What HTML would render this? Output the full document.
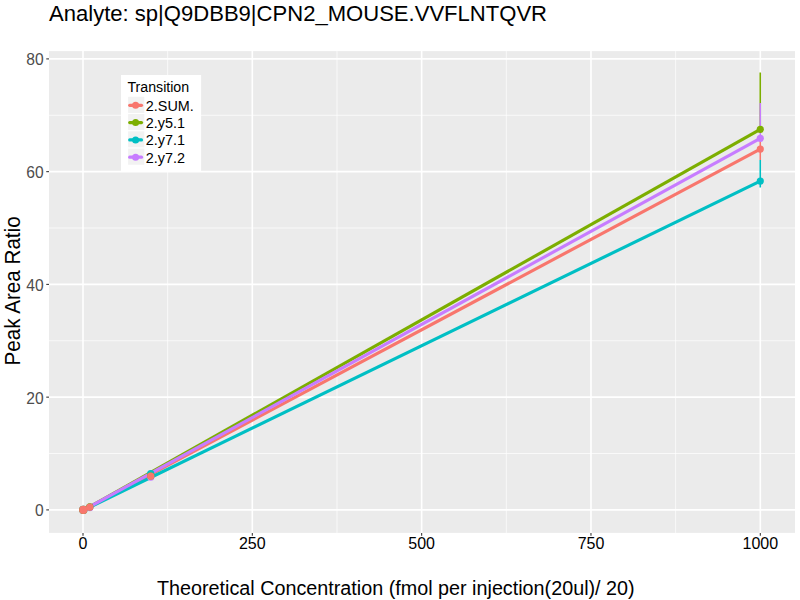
<!DOCTYPE html>
<html><head><meta charset="utf-8"><style>
html,body{margin:0;padding:0;background:#fff;width:800px;height:600px;overflow:hidden}
svg{display:block}
text{font-family:"Liberation Sans",sans-serif}
.title{font-size:22.06px;fill:#000}
.yat{font-size:20.65px;fill:#000}
.xat{font-size:19.77px;fill:#000}
.xt{font-size:16px;fill:#000}
.yt{font-size:15.6px;fill:#4D4D4D}
.lt{font-size:14.2px;fill:#000}
.ll{font-size:14.4px;fill:#000}
</style></head><body>
<svg width="800" height="600" viewBox="0 0 800 600">
<rect width="800" height="600" fill="#FFFFFF"/>
<rect x="49" y="51.1" width="746" height="481.80" fill="#EBEBEB"/>
<line x1="167.66" y1="51.1" x2="167.66" y2="532.9" stroke="#FFFFFF" stroke-width="0.71"/>
<line x1="336.99" y1="51.1" x2="336.99" y2="532.9" stroke="#FFFFFF" stroke-width="0.71"/>
<line x1="506.31" y1="51.1" x2="506.31" y2="532.9" stroke="#FFFFFF" stroke-width="0.71"/>
<line x1="675.64" y1="51.1" x2="675.64" y2="532.9" stroke="#FFFFFF" stroke-width="0.71"/>
<line x1="49" y1="453.52" x2="795" y2="453.52" stroke="#FFFFFF" stroke-width="0.71"/>
<line x1="49" y1="340.77" x2="795" y2="340.77" stroke="#FFFFFF" stroke-width="0.71"/>
<line x1="49" y1="228.02" x2="795" y2="228.02" stroke="#FFFFFF" stroke-width="0.71"/>
<line x1="49" y1="115.27" x2="795" y2="115.27" stroke="#FFFFFF" stroke-width="0.71"/>
<line x1="83.00" y1="51.1" x2="83.00" y2="532.9" stroke="#FFFFFF" stroke-width="1.6"/>
<line x1="252.32" y1="51.1" x2="252.32" y2="532.9" stroke="#FFFFFF" stroke-width="1.6"/>
<line x1="421.65" y1="51.1" x2="421.65" y2="532.9" stroke="#FFFFFF" stroke-width="1.6"/>
<line x1="590.97" y1="51.1" x2="590.97" y2="532.9" stroke="#FFFFFF" stroke-width="1.6"/>
<line x1="760.30" y1="51.1" x2="760.30" y2="532.9" stroke="#FFFFFF" stroke-width="1.6"/>
<line x1="49" y1="509.90" x2="795" y2="509.90" stroke="#FFFFFF" stroke-width="1.6"/>
<line x1="49" y1="397.15" x2="795" y2="397.15" stroke="#FFFFFF" stroke-width="1.6"/>
<line x1="49" y1="284.40" x2="795" y2="284.40" stroke="#FFFFFF" stroke-width="1.6"/>
<line x1="49" y1="171.65" x2="795" y2="171.65" stroke="#FFFFFF" stroke-width="1.6"/>
<line x1="49" y1="58.90" x2="795" y2="58.90" stroke="#FFFFFF" stroke-width="1.6"/>
<line x1="83.00" y1="532.9" x2="83.00" y2="535.64" stroke="#333333" stroke-width="1.07"/>
<g transform="translate(83.00,549.00) scale(1,1.0)"><text x="0" y="0" text-anchor="middle" class="xt">0</text></g>
<line x1="252.32" y1="532.9" x2="252.32" y2="535.64" stroke="#333333" stroke-width="1.07"/>
<g transform="translate(252.32,549.00) scale(1,1.0)"><text x="0" y="0" text-anchor="middle" class="xt">250</text></g>
<line x1="421.65" y1="532.9" x2="421.65" y2="535.64" stroke="#333333" stroke-width="1.07"/>
<g transform="translate(421.65,549.00) scale(1,1.0)"><text x="0" y="0" text-anchor="middle" class="xt">500</text></g>
<line x1="590.97" y1="532.9" x2="590.97" y2="535.64" stroke="#333333" stroke-width="1.07"/>
<g transform="translate(590.97,549.00) scale(1,1.0)"><text x="0" y="0" text-anchor="middle" class="xt">750</text></g>
<line x1="760.30" y1="532.9" x2="760.30" y2="535.64" stroke="#333333" stroke-width="1.07"/>
<g transform="translate(760.30,549.00) scale(1,1.0)"><text x="0" y="0" text-anchor="middle" class="xt">1000</text></g>
<line x1="46.26" y1="509.90" x2="49" y2="509.90" stroke="#333333" stroke-width="1.07"/>
<g transform="translate(43.60,516.30) scale(1,1.0)"><text x="0" y="0" text-anchor="end" class="yt">0</text></g>
<line x1="46.26" y1="397.15" x2="49" y2="397.15" stroke="#333333" stroke-width="1.07"/>
<g transform="translate(43.60,403.55) scale(1,1.0)"><text x="0" y="0" text-anchor="end" class="yt">20</text></g>
<line x1="46.26" y1="284.40" x2="49" y2="284.40" stroke="#333333" stroke-width="1.07"/>
<g transform="translate(43.60,290.80) scale(1,1.0)"><text x="0" y="0" text-anchor="end" class="yt">40</text></g>
<line x1="46.26" y1="171.65" x2="49" y2="171.65" stroke="#333333" stroke-width="1.07"/>
<g transform="translate(43.60,178.05) scale(1,1.0)"><text x="0" y="0" text-anchor="end" class="yt">60</text></g>
<line x1="46.26" y1="58.90" x2="49" y2="58.90" stroke="#333333" stroke-width="1.07"/>
<g transform="translate(43.60,65.30) scale(1,1.0)"><text x="0" y="0" text-anchor="end" class="yt">80</text></g>
<line x1="760.25" y1="72.5" x2="760.25" y2="129" stroke="#7CAE00" stroke-width="1.6"/>
<line x1="760.25" y1="103" x2="760.25" y2="138" stroke="#C77CFF" stroke-width="1.6"/>
<line x1="760.25" y1="138" x2="760.25" y2="160" stroke="#F8766D" stroke-width="1.6"/>
<line x1="760.25" y1="160" x2="760.25" y2="187.5" stroke="#00BFC4" stroke-width="1.6"/>
<line x1="83.00" y1="510.5" x2="760.25" y2="149.1" stroke="#F8766D" stroke-width="3.15"/>
<line x1="83.00" y1="510.5" x2="760.25" y2="129.29999999999998" stroke="#7CAE00" stroke-width="3.15"/>
<line x1="83.00" y1="510.5" x2="760.25" y2="181.1" stroke="#00BFC4" stroke-width="3.15"/>
<line x1="83.00" y1="510.5" x2="760.25" y2="138.29999999999998" stroke="#C77CFF" stroke-width="3.15"/>
<circle cx="83.30" cy="509.9" r="4.1" fill="#00BFC4"/>
<circle cx="89.77" cy="507.2" r="3.6" fill="#00BFC4"/>
<circle cx="150.73" cy="473.6" r="3.6" fill="#00BFC4"/>
<circle cx="760.30" cy="181.1" r="3.6" fill="#00BFC4"/>
<circle cx="83.30" cy="509.9" r="4.1" fill="#C77CFF"/>
<circle cx="89.77" cy="507.6" r="3.6" fill="#C77CFF"/>
<circle cx="150.73" cy="477.2" r="3.6" fill="#C77CFF"/>
<circle cx="760.30" cy="138.29999999999998" r="3.6" fill="#C77CFF"/>
<circle cx="83.30" cy="509.9" r="4.1" fill="#7CAE00"/>
<circle cx="89.77" cy="506.9" r="3.6" fill="#7CAE00"/>
<circle cx="150.73" cy="476.0" r="3.6" fill="#7CAE00"/>
<circle cx="760.30" cy="129.29999999999998" r="3.6" fill="#7CAE00"/>
<circle cx="83.30" cy="509.9" r="4.1" fill="#F8766D"/>
<circle cx="89.77" cy="507.2" r="3.6" fill="#F8766D"/>
<circle cx="150.73" cy="476.1" r="3.6" fill="#F8766D"/>
<circle cx="760.30" cy="149.1" r="3.6" fill="#F8766D"/>
<rect x="121" y="75" width="80.1" height="96" fill="#FFFFFF"/>
<g transform="translate(127.40,91.90) scale(1,1.04)"><text x="0" y="0" class="lt">Transition</text></g>
<rect x="127.6" y="96.20" width="17.28" height="17.28" fill="#F2F2F2" stroke="#FFFFFF" stroke-width="1.07"/>
<line x1="129.7" y1="105.34" x2="141.5" y2="105.34" stroke="#F8766D" stroke-width="3.2" stroke-linecap="round"/>
<circle cx="135.6" cy="105.34" r="3.5" fill="#F8766D"/>
<g transform="translate(145.80,110.70) scale(1,1.04)"><text x="0" y="0" class="ll">2.SUM.</text></g>
<rect x="127.6" y="113.48" width="17.28" height="17.28" fill="#F2F2F2" stroke="#FFFFFF" stroke-width="1.07"/>
<line x1="129.7" y1="122.62" x2="141.5" y2="122.62" stroke="#7CAE00" stroke-width="3.2" stroke-linecap="round"/>
<circle cx="135.6" cy="122.62" r="3.5" fill="#7CAE00"/>
<g transform="translate(145.80,128.00) scale(1,1.04)"><text x="0" y="0" class="ll">2.y5.1</text></g>
<rect x="127.6" y="130.76" width="17.28" height="17.28" fill="#F2F2F2" stroke="#FFFFFF" stroke-width="1.07"/>
<line x1="129.7" y1="139.90" x2="141.5" y2="139.90" stroke="#00BFC4" stroke-width="3.2" stroke-linecap="round"/>
<circle cx="135.6" cy="139.90" r="3.5" fill="#00BFC4"/>
<g transform="translate(145.80,145.30) scale(1,1.04)"><text x="0" y="0" class="ll">2.y7.1</text></g>
<rect x="127.6" y="148.04" width="17.28" height="17.28" fill="#F2F2F2" stroke="#FFFFFF" stroke-width="1.07"/>
<line x1="129.7" y1="157.18" x2="141.5" y2="157.18" stroke="#C77CFF" stroke-width="3.2" stroke-linecap="round"/>
<circle cx="135.6" cy="157.18" r="3.5" fill="#C77CFF"/>
<g transform="translate(145.80,162.60) scale(1,1.04)"><text x="0" y="0" class="ll">2.y7.2</text></g>
<g transform="translate(49.00,21.00) scale(1,1.04)"><text x="0" y="0" class="title">Analyte: sp|Q9DBB9|CPN2_MOUSE.VVFLNTQVR</text></g>
<g transform="translate(20.20,290.90) rotate(-90) scale(1,1.04)"><text x="0" y="0" text-anchor="middle" class="yat">Peak Area Ratio</text></g>
<g transform="translate(395.80,595.00) scale(1,1.04)"><text x="0" y="0" text-anchor="middle" class="xat">Theoretical Concentration (fmol per injection(20ul)/ 20)</text></g>
</svg></body></html>
